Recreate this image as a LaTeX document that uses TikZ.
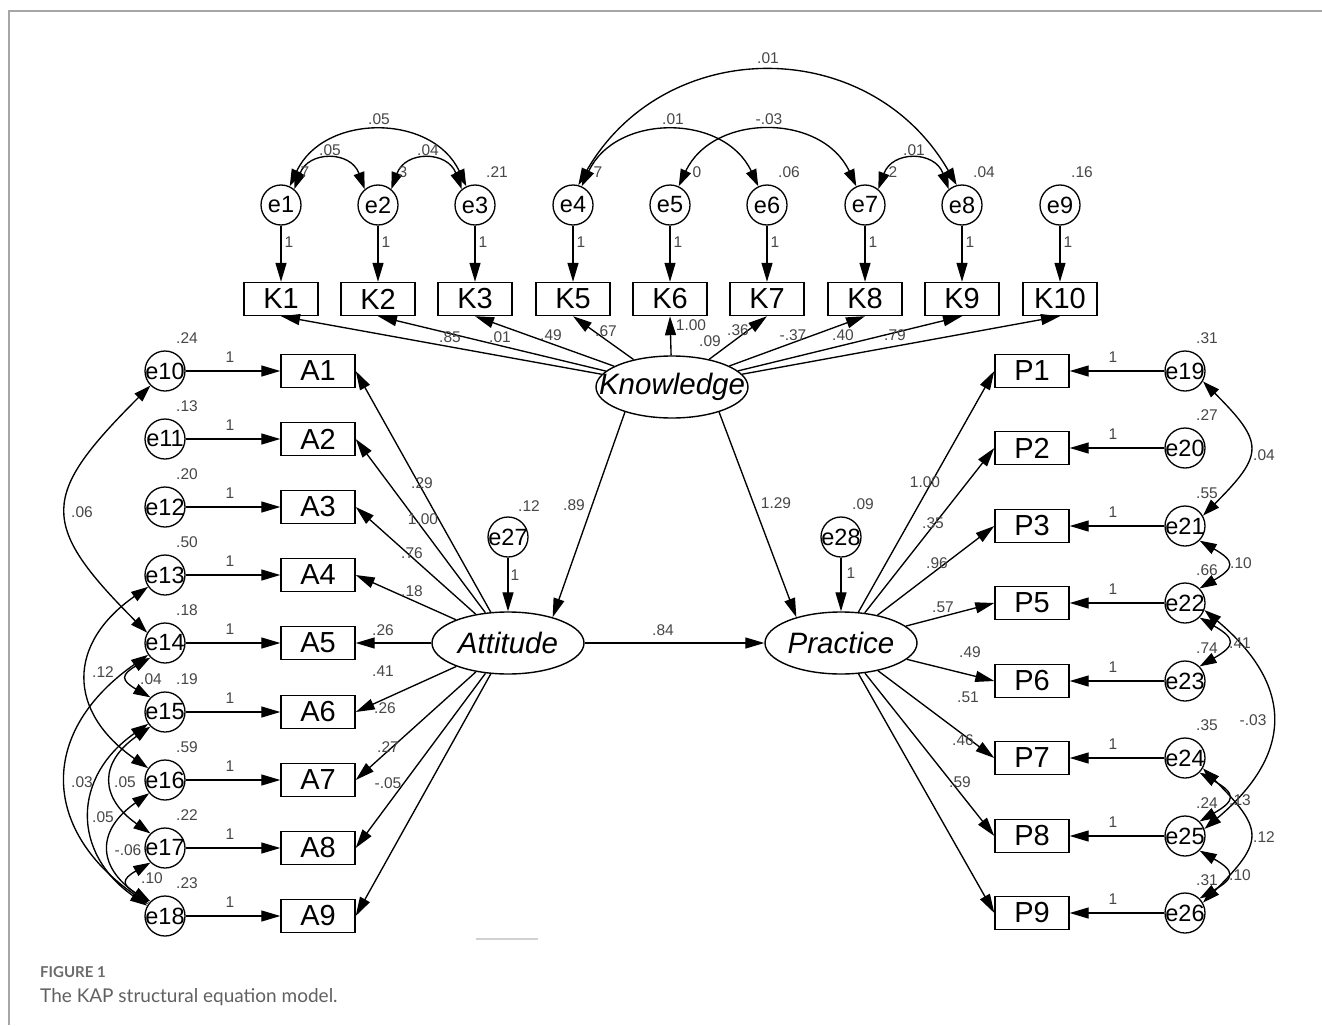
\documentclass[tikz,border=0pt]{standalone}
\usepackage{fontspec}
\setmainfont{Liberation Sans}
\newfontfamily\capfont{Lato}
\usetikzlibrary{arrows.meta,shapes.geometric}
\begin{document}
\begin{tikzpicture}[x=1pt,y=1pt,
  sbox/.style={draw,line width=1.4pt,minimum width=74pt,minimum height=33pt,inner sep=0pt,font=\fontsize{29}{29}\selectfont},
  serr/.style={draw,circle,line width=1.3pt,minimum size=40pt,inner sep=0pt},
  etext/.style={inner sep=0pt,font=\fontsize{23.5}{23.5}\selectfont},
  slat/.style={draw,ellipse,line width=1.4pt,minimum width=152pt,minimum height=62pt,inner sep=0pt},
  lattext/.style={inner sep=0pt,font=\fontsize{29.5}{29.5}\selectfont\itshape},
  snum/.style={inner sep=0pt,text=black!72,font=\fontsize{15.5}{15.5}\selectfont},
  sarr/.style={line width=1.35pt,-{Triangle[length=19pt,width=11pt]}},
  scov/.style={line width=1.35pt,{Triangle[length=17pt,width=11pt]}-{Triangle[length=17pt,width=11pt]}},
]
\useasboundingbox (0,0) rectangle (1322,-1025);
\fill[white] (0,0) rectangle (1322,-1025);
\draw[black!35,line width=2pt] (8.5,-1025) -- (8.5,-11) -- (1322,-11);
\draw[black!18,line width=1.5pt] (476,-939) -- (538,-939);

% latent variables
\node[slat] (Kn) at (672,-387) {};
\node[lattext] (KnT) at (Kn) {Knowledge};
\node[slat] (At) at (508,-643) {};
\node[lattext] (AtT) at (At) {Attitude};
\node[slat] (Pr) at (841,-643) {};
\node[lattext] (PrT) at (Pr) {Practice};

% knowledge block
\foreach \n/\k/\x in {1/1/281,2/2/378,3/3/475,4/5/573,5/6/670,6/7/767,7/8/865,8/9/962,9/10/1060} {
  \node[serr,label={[etext]center:e\n}] (e\n) at (\x,-205) {};
  \node[sbox] (K\k) at (\x,-299) {K\k};
  \draw[sarr] (e\n) -- (K\k);
  \node[snum] (kone\n) at (\x+8,-242) {1};
  \draw[sarr] (Kn) -- (K\k.south);
}

% attitude block
\foreach \i/\y/\v [count=\c] in {10/371/.24,11/439/.13,12/507/.20,13/575/.50,14/643/.18,15/712/.19,16/780/.59,17/848/.22,18/916/.23} {
  \node[serr,label={[etext]center:e\i}] (e\i) at (165,-\y) {};
  \node[sbox] (A\c) at (318,-\y) {A\c};
  \draw[sarr] (e\i) -- (A\c);
  \node[snum] (aone\c) at (230,-\y+14) {1};
  \node[snum] (avar\c) at (187,-\y+33) {\v};
  \draw[sarr] (At) -- (A\c.east);
}

% practice block
\foreach \i/\y/\v/\p in {19/371/.31/1,20/448/.27/2,21/526/.55/3,22/603/.66/5,23/681/.74/6,24/758/.35/7,25/836/.24/8,26/913/.31/9} {
  \node[serr,label={[etext]center:e\i}] (e\i) at (1185,-\y) {};
  \node[sbox] (P\p) at (1032,-\y) {P\p};
  \draw[sarr] (e\i) -- (P\p);
  \node[snum] (pone\p) at (1113,-\y+14) {1};
  \node[snum] (pvar\p) at (1207,-\y+33) {\v};
  \draw[sarr] (Pr) -- (P\p.west);
}

% structural disturbances
\node[serr,label={[etext]center:e27}] (e27) at (508,-537) {};
\node[serr,label={[etext]center:e28}] (e28) at (841,-537) {};
\draw[sarr] (e27) -- (At);
\draw[sarr] (e28) -- (Pr);
\draw[sarr] (Kn.208) -- (At.30);
\draw[sarr] (Kn.332) -- (Pr.150);
\draw[sarr] (At) -- (Pr);

% covariances top
\draw[scov] (e1.50) to[out=70,in=110,looseness=1.5] (e2.130);
\draw[scov] (e2.50) to[out=70,in=110,looseness=1.5] (e3.130);
\draw[scov] (e1.65) to[out=65,in=115,looseness=1.17] (e3.115);
\draw[scov] (e4.65) to[out=65,in=115,looseness=1.17] (e6.115);
\draw[scov] (e5.65) to[out=65,in=115,looseness=1.17] (e7.115);
\draw[scov] (e7.50) to[out=70,in=110,looseness=1.5] (e8.130);
\draw[scov] (e4.75) to[out=60,in=120,looseness=1.18] (e8.105);

% covariances left
\draw[scov] (e10.225) to[out=225,in=135,looseness=1.6] (e14.150);
\draw[scov] (e13.215) to[out=215,in=145,looseness=1.4] (e16.145);
\draw[scov] (e14.225) to[out=210,in=150,looseness=2.2] (e15.135);
\draw[scov] (e14.215) to[out=215,in=145,looseness=1.36] (e18.145);
\draw[scov] (e15.215) to[out=215,in=145,looseness=1.3] (e18.150);
\draw[scov] (e15.225) to[out=215,in=145,looseness=1.5] (e17.135);
\draw[scov] (e16.220) to[out=215,in=145,looseness=1.5] (e18.140);
\draw[scov] (e17.225) to[out=210,in=150,looseness=2.2] (e18.135);

% covariances right
\draw[scov] (e19.330) to[out=-45,in=45,looseness=1.66] (e21.30);
\draw[scov] (e21.315) to[out=-30,in=30,looseness=2.2] (e22.45);
\draw[scov] (e22.315) to[out=-30,in=30,looseness=2.2] (e23.45);
\draw[scov] (e22.340) to[out=-40,in=40,looseness=1.37] (e25.20);
\draw[scov] (e24.315) to[out=-30,in=30,looseness=2.2] (e25.45);
\draw[scov] (e24.330) to[out=-45,in=45,looseness=1.66] (e26.30);
\draw[scov] (e25.315) to[out=-30,in=30,looseness=2.2] (e26.45);

% numeric labels
\foreach \x/\y/\t [count=\c] in {
  379/119/.05, 330/150/.05, 428/150/.04, 673/119/.01, 769/119/-.03, 914/150/.01, 768/58/.01,
  497/172/.21, 789/172/.06, 984/172/.04, 1082/172/.16,
  305/172/7, 403/172/3, 598/172/7, 697/172/0, 893/172/2,
  450/337/.85, 500/337/.01, 551/335/.49, 606/331/.67, 691/325/1.00, 710/341/.09, 738/330/.36, 793/335/-.37, 843/335/.40, 895/335/.79,
  574/505/.89, 776/503/1.29, 663/630/.84, 529/506/.12, 863/504/.09, 515/575/1, 851/573/1,
  422/483/.29, 423/519/1.00, 412/553/.76, 412/591/.18, 383/630/.26, 383/671/.41, 385/708/.26, 388/747/.27, 388/783/-.05,
  82/512/.06, 103/672/.12, 151/679/.04, 82/782/.03, 125/782/.05, 103/817/.05, 128/850/-.06, 152/878/.10,
  925/482/1.00, 933/523/.35, 937/563/.96, 943/607/.57, 970/652/.49, 968/697/.51, 963/740/.46, 960/782/.59,
  1264/455/.04, 1241/563/.10, 1240/643/.41, 1253/720/-.03, 1240/800/.13, 1264/837/.12, 1240/875/.10} {
  \node[snum] (lab\c) at (\x,-\y) {\t};
}

% caption
\node[anchor=west,inner sep=0pt,text=black!58,font=\capfont\bfseries\fontsize{15}{15}\selectfont] (fig) at (40,-972) {FIGURE 1};
\node[anchor=west,inner sep=0pt,text=black!62,font=\capfont\fontsize{19}{19}\selectfont] (cap) at (40,-997) {The KAP structural equation model.};
\end{tikzpicture}
\end{document}
